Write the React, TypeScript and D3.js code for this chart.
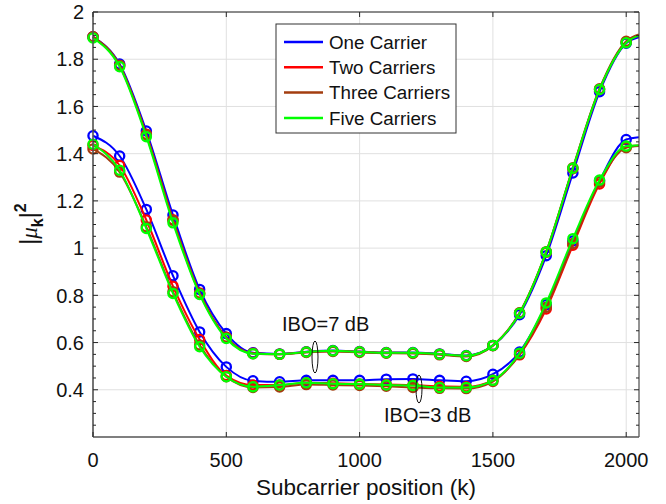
import React from "react";
import * as d3 from "d3";

const W = 666;
const H = 504;
const margin = { top: 12, right: 27, bottom: 67, left: 93 };
const innerW = W - margin.left - margin.right;
const innerH = H - margin.top - margin.bottom;

// subcarrier positions where markers are drawn, plus the last subcarrier
const subcarriers = [0, 100, 200, 300, 400, 500, 600, 700, 800, 900, 1000, 1100, 1200, 1300, 1400, 1500, 1600, 1700, 1800, 1900, 2000];
const lastSubcarrier = 2047;

const xTicks = [0, 500, 1000, 1500, 2000];
const yTicks = [0.4, 0.6, 0.8, 1, 1.2, 1.4, 1.6, 1.8, 2];
const yMinorTicks = [0.25, 0.3, 0.35, 0.45, 0.5, 0.55, 0.65, 0.7, 0.75, 0.85, 0.9, 0.95, 1.05, 1.1, 1.15, 1.25, 1.3, 1.35, 1.45, 1.5, 1.55, 1.65, 1.7, 1.75, 1.85, 1.9, 1.95];

const seriesNames = ["One Carrier", "Two Carriers", "Three Carriers", "Five Carriers"];
const seriesColors = ["#0000ff", "#ff0000", "#a33d0f", "#00ff00"];

// IBO = 7 dB
const ibo7One = [1.895, 1.78, 1.496, 1.14, 0.825, 0.638, 0.557, 0.552, 0.561, 0.566, 0.562, 0.558, 0.558, 0.552, 0.545, 0.588, 0.718, 0.968, 1.318, 1.662, 1.868];
const ibo7Two = [1.895, 1.772, 1.482, 1.12, 0.81, 0.622, 0.555, 0.551, 0.56, 0.564, 0.561, 0.557, 0.556, 0.551, 0.543, 0.588, 0.725, 0.982, 1.336, 1.672, 1.872];
const ibo7Three = [1.895, 1.775, 1.48, 1.118, 0.808, 0.622, 0.553, 0.55, 0.558, 0.562, 0.558, 0.555, 0.554, 0.548, 0.541, 0.587, 0.726, 0.985, 1.34, 1.675, 1.876];
const ibo7Five = [1.89, 1.768, 1.472, 1.107, 0.804, 0.617, 0.553, 0.551, 0.56, 0.565, 0.561, 0.557, 0.557, 0.551, 0.544, 0.588, 0.724, 0.984, 1.338, 1.672, 1.87];
const ibo7End = [1.893, 1.9, 1.905, 1.9];

// IBO = 3 dB
const ibo3One = [1.476, 1.39, 1.164, 0.883, 0.645, 0.497, 0.438, 0.434, 0.44, 0.44, 0.44, 0.445, 0.446, 0.44, 0.436, 0.466, 0.56, 0.76, 1.03, 1.285, 1.46];
const ibo3Two = [1.435, 1.35, 1.119, 0.839, 0.613, 0.46, 0.42, 0.42, 0.43, 0.428, 0.425, 0.422, 0.42, 0.415, 0.413, 0.44, 0.548, 0.742, 1.012, 1.272, 1.43];
const ibo3Three = [1.42, 1.322, 1.09, 0.815, 0.59, 0.455, 0.41, 0.412, 0.422, 0.42, 0.418, 0.415, 0.41, 0.406, 0.405, 0.435, 0.55, 0.75, 1.02, 1.28, 1.425];
const ibo3Five = [1.44, 1.33, 1.083, 0.808, 0.582, 0.455, 0.413, 0.42, 0.43, 0.426, 0.424, 0.42, 0.418, 0.41, 0.41, 0.44, 0.555, 0.768, 1.04, 1.288, 1.432];
const ibo3End = [1.47, 1.435, 1.432, 1.436];

const ibo7 = [ibo7One, ibo7Two, ibo7Three, ibo7Five];
const ibo3 = [ibo3One, ibo3Two, ibo3Three, ibo3Five];

const font = "'Liberation Sans', Arial, Helvetica, sans-serif";

const App = () => {
  const xScale = d3.scaleLinear().domain([0, 2048]).range([0, innerW]);
  const yScale = d3.scaleLinear().domain([0.2, 2]).range([innerH, 0]);

  const line = d3
    .line<[number, number]>()
    .x((d) => xScale(d[0]))
    .y((d) => yScale(d[1]))
    .curve(d3.curveMonotoneX);

  const toPoints = (vals: number[], end: number): [number, number][] => [
    ...subcarriers.map((k, i) => [k, vals[i]] as [number, number]),
    [lastSubcarrier, end],
  ];

  return (
    <div style={{ position: "fixed", left: 0, top: 0 }}>
      <svg width={W} height={H} style={{ display: "block", background: "#fff" }} fontFamily={font}>
        <g transform={`translate(${margin.left},${margin.top})`}>
          {/* grid */}
          {xTicks.map((t) => (
            <line key={"gx" + t} x1={xScale(t)} x2={xScale(t)} y1={0} y2={innerH} stroke="#e0e0e0" strokeWidth={1} />
          ))}
          {yTicks.map((t) => (
            <line key={"gy" + t} x1={0} x2={innerW} y1={yScale(t)} y2={yScale(t)} stroke="#e0e0e0" strokeWidth={1} />
          ))}

          {/* curves */}
          {seriesColors.map((c, s) => (
            <g key={"s" + s}>
              {[ibo7[s], ibo3[s]].map((vals, j) => (
                <g key={j}>
                  <path d={line(toPoints(vals, j === 0 ? ibo7End[s] : ibo3End[s])) || ""} fill="none" stroke={c} strokeWidth={2} />
                  {vals.map((v, i) => (
                    <circle key={i} cx={xScale(subcarriers[i])} cy={yScale(v)} r={4.6} fill="none" stroke={c} strokeWidth={2.3} />
                  ))}
                </g>
              ))}
            </g>
          ))}

          {/* box */}
          <line x1={0} x2={innerW} y1={0} y2={0} stroke="#262626" strokeWidth={1} />
          <line x1={innerW} x2={innerW} y1={0} y2={innerH} stroke="#262626" strokeWidth={1} />
          <line x1={0} x2={innerW} y1={innerH} y2={innerH} stroke="#555" strokeWidth={1.6} />
          <line x1={0} x2={0} y1={0} y2={innerH} stroke="#555" strokeWidth={1.6} />

          {/* ticks */}
          {xTicks.map((t) => (
            <g key={"tx" + t}>
              <line x1={xScale(t)} x2={xScale(t)} y1={innerH} y2={innerH - 5} stroke="#262626" />
              <line x1={xScale(t)} x2={xScale(t)} y1={0} y2={5} stroke="#262626" />
              <text x={xScale(t)} y={innerH + 30} textAnchor="middle" fontSize={20} fill="#111">
                {t}
              </text>
            </g>
          ))}
          {yTicks.map((t) => (
            <g key={"ty" + t}>
              <line x1={0} x2={5} y1={yScale(t)} y2={yScale(t)} stroke="#262626" />
              <line x1={innerW} x2={innerW - 5} y1={yScale(t)} y2={yScale(t)} stroke="#262626" />
              <text x={-9} y={yScale(t)} dy="0.36em" textAnchor="end" fontSize={20} fill="#111">
                {d3.format("~g")(t)}
              </text>
            </g>
          ))}
          {yMinorTicks.map((t) => (
            <g key={"tm" + t}>
              <line x1={0} x2={3} y1={yScale(t)} y2={yScale(t)} stroke="#262626" />
              <line x1={innerW} x2={innerW - 3} y1={yScale(t)} y2={yScale(t)} stroke="#262626" />
            </g>
          ))}
        </g>

        {/* annotations */}
        <text x={282} y={331} fontSize={20} fill="#111">IBO=7 dB</text>
        <ellipse cx={315} cy={357} rx={3} ry={16} fill="none" stroke="#111" strokeWidth={1} />
        <text x={384} y={422} fontSize={20} fill="#111">IBO=3 dB</text>
        <ellipse cx={419} cy={389} rx={3} ry={14} fill="none" stroke="#111" strokeWidth={1} />

        {/* legend */}
        <rect x={276} y={24} width={180} height={109} fill="#fff" stroke="#333" strokeWidth={1} />
        {seriesNames.map((n, i) => (
          <g key={n} transform={`translate(284,${42 + i * 25.3})`}>
            <line x1={0} x2={39} y1={0} y2={0} stroke={seriesColors[i]} strokeWidth={2.5} />
            <text x={45} y={0} dy="0.36em" fontSize={18.8} fill="#111">
              {n}
            </text>
          </g>
        ))}

        {/* axis labels */}
        <text x={margin.left + innerW / 2} y={495} textAnchor="middle" fontSize={22.5} fill="#111">
          Subcarrier position (k)
        </text>
        <text transform="translate(37,224) rotate(-90)" textAnchor="middle" fontSize={23} fill="#111">
          |<tspan fontFamily="'Liberation Serif', serif" fontStyle="italic">μ</tspan>
          <tspan fontWeight="bold" fontSize={16} dy={6}>k</tspan>
          <tspan dy={-6}>|</tspan>
          <tspan fontWeight="bold" fontSize={16} dy={-11}>2</tspan>
        </text>
      </svg>
    </div>
  );
};

export default App;
